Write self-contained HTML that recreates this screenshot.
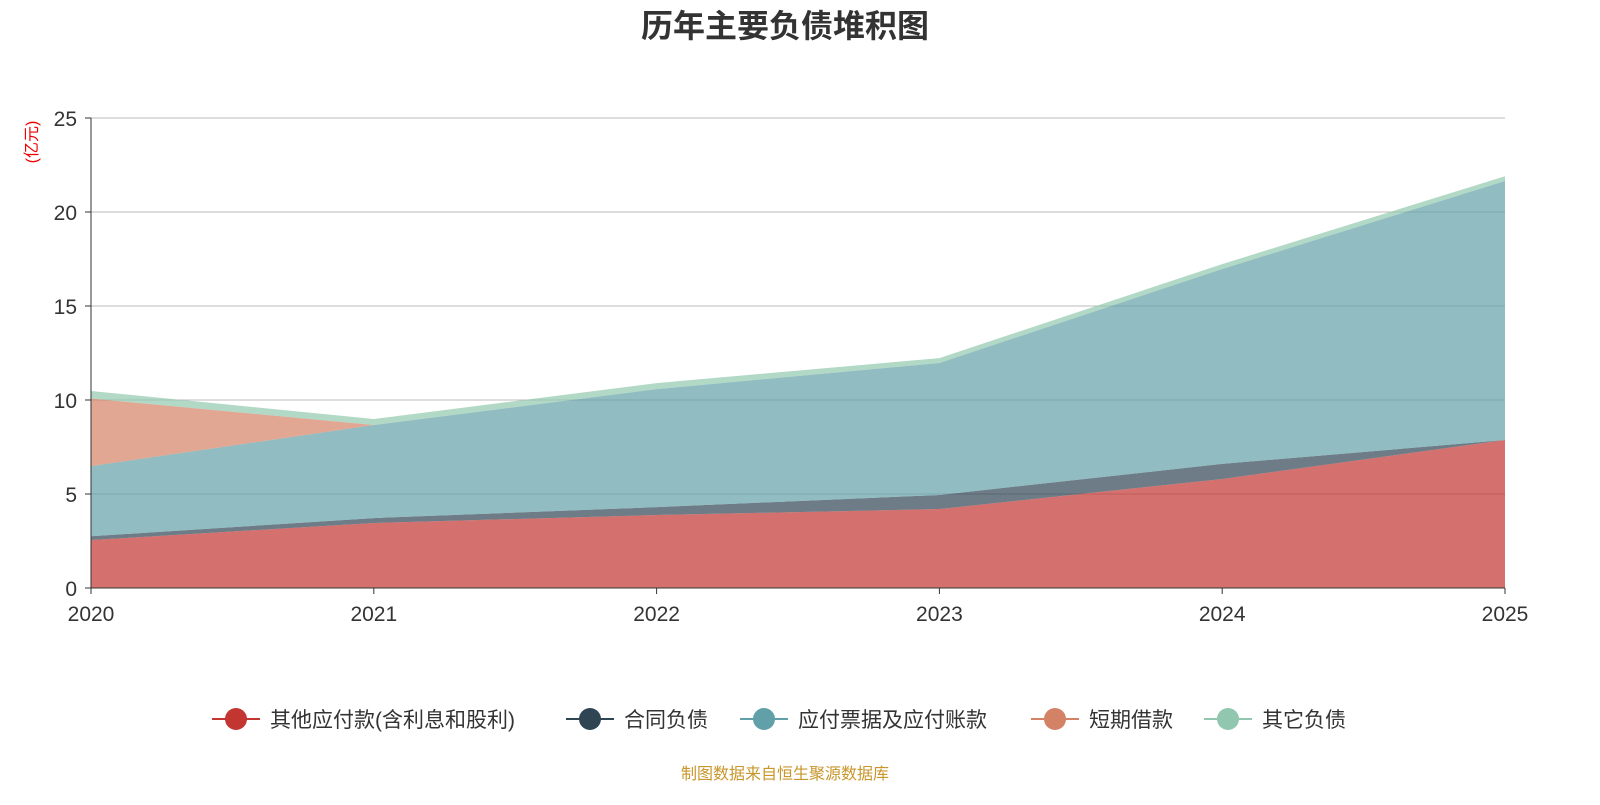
<!DOCTYPE html>
<html><head><meta charset="utf-8"><style>
body{margin:0;background:#fff;}
svg text{font-family:"Liberation Sans","Noto Sans CJK SC",sans-serif;}
</style></head><body>
<svg id="chart" width="1600" height="800" xmlns="http://www.w3.org/2000/svg">
<text x="785" y="37" text-anchor="middle" font-size="32" font-weight="bold" fill="#333">历年主要负债堆积图</text>
<text transform="translate(37,142) rotate(-90)" text-anchor="middle" font-size="16" fill="#e00">(亿元)</text>
<g id="grid"></g><g id="areas"></g><g id="axes"></g><g id="legend"></g>
<text x="785" y="779" text-anchor="middle" font-size="16" fill="#c8962a">制图数据来自恒生聚源数据库</text>
</svg>
<script>
const years=["2020","2021","2022","2023","2024","2025"];
const otherPayables=[2.55,3.46,3.88,4.2,5.8,7.87];
const contractLiab=[0.2,0.26,0.42,0.75,0.8,0.0];
const notesPayable=[3.73,4.95,6.28,7.02,10.37,13.78];
const shortLoans=[3.6,0,0,0,0,0];
const otherLiab=[0.4,0.32,0.32,0.26,0.26,0.25];
const yTicks=[0,5,10,15,20,25];
const seriesNames=["其他应付款(含利息和股利)","合同负债","应付票据及应付账款","短期借款","其它负债"];
const colors=["#c23531","#2f4554","#61a0a8","#d48265","#91c7ae"];
const NS="http://www.w3.org/2000/svg";
const x0=91,x1=1505,y0=588,y1=118,maxY=25;
const X=i=>x0+(x1-x0)*i/(years.length-1);
const Y=v=>y0-(y0-y1)*v/maxY;
function mk(tag,attrs,parent){const e=document.createElementNS(NS,tag);for(const k in attrs)e.setAttribute(k,attrs[k]);parent.appendChild(e);return e;}
const grid=document.getElementById('grid'),areas=document.getElementById('areas'),axes=document.getElementById('axes'),legend=document.getElementById('legend');
yTicks.forEach(t=>{
 if(t>0){const l=mk('line',{x1:x0,x2:x1,y1:Y(t),y2:Y(t),stroke:'#bbb','stroke-width':1},grid);
 
 }
 const tx=mk('text',{x:x0-14,y:Y(t)+8,'text-anchor':'end','font-size':21,fill:'#333'},axes);tx.textContent=t;
 
 
 mk('line',{x1:x0-6,x2:x0,y1:Y(t),y2:Y(t),stroke:'#333'},axes);
});
const series=[otherPayables,contractLiab,notesPayable,shortLoans,otherLiab];
let base=years.map(()=>0);
series.forEach((s,si)=>{
 const top=base.map((b,i)=>b+s[i]);
 let d='M'+years.map((_,i)=>X(i)+','+Y(top[i])).join(' L');
 for(let i=years.length-1;i>=0;i--)d+=' L'+X(i)+','+Y(base[i]);
 const p=mk('path',{d:d+'Z',fill:colors[si],'fill-opacity':0.7,stroke:'none'},areas);
 
 
 base=top;
});
mk('line',{x1:x0,x2:x0,y1:y1,y2:y0,stroke:'#333'},axes);
mk('line',{x1:x0,x2:x1,y1:y0,y2:y0,stroke:'#333'},axes);
years.forEach((yr,i)=>{
 mk('line',{x1:X(i),x2:X(i),y1:y0,y2:y0+6,stroke:'#333'},axes);
 const t=mk('text',{x:X(i),y:y0+33,'text-anchor':'middle','font-size':21,fill:'#333'},axes);t.textContent=yr;
 
 
});
const lx=[212,566,740,1031,1204];
seriesNames.forEach((n,i)=>{
 const g=mk('g',{},legend);
 
 
 mk('line',{x1:lx[i],x2:lx[i]+48,y1:719,y2:719,stroke:colors[i],'stroke-width':2},g);
 mk('circle',{cx:lx[i]+24,cy:719,r:11,fill:colors[i]},g);
 const t=mk('text',{x:lx[i]+58,y:727,'font-size':21,fill:'#333'},g);t.textContent=n;
});
</script>
</body></html>
